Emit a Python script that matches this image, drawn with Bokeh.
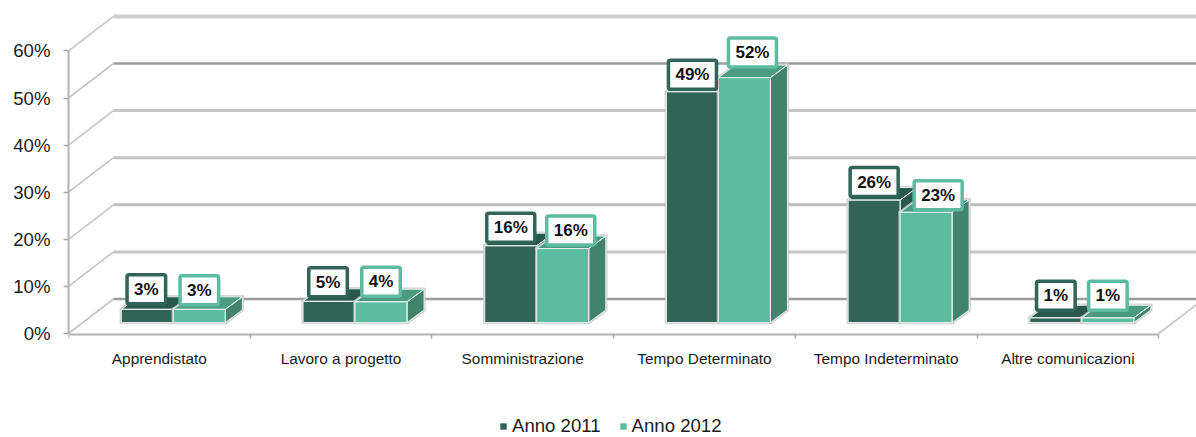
from bokeh.plotting import figure
from bokeh.models import (ColumnDataSource, Range1d, FixedTicker, Legend, LegendItem,
                          LinearAxis)
from bokeh.core.properties import value
from bokeh.embed import file_html
from bokeh.resources import INLINE

# ---- data -------------------------------------------------------------
categories = ["Apprendistato", "Lavoro a progetto", "Somministrazione",
              "Tempo Determinato", "Tempo Indeterminato", "Altre comunicazioni"]
anno_2011 = [2.8, 4.5, 16.3, 49.0, 26.0, 1.0]
anno_2012 = [2.8, 4.4, 15.7, 52.0, 23.4, 1.0]
labels_2011 = ["3%", "5%", "16%", "49%", "26%", "1%"]
labels_2012 = ["3%", "4%", "16%", "52%", "23%", "1%"]
y_ticks = [0, 10, 20, 30, 40, 50, 60]

# ---- layout (pixels) ---------------------------------------------------
FONT = "Liberation Sans"
PX_X = 181.7          # pixels per category
PX_Y = 4.71           # pixels per percentage point
WALL_DX, WALL_DY = 45 / PX_X, 34.5 / PX_Y
BAR_W = 52 / PX_X
BAR_DX, BAR_DY = 17 / PX_X, 12.5 / PX_Y
BASE_DX, BASE_DY = 14 / PX_X, 11 / PX_Y
label_dx_2011 = [-1, -1, 0, 0, 0, 0]
label_dy_2011 = [-20, -19, -18, -17, -18, -22]
label_dx_2012 = [0, 0, 8, 8, 12, 0]
label_dy_2012 = [-19, -20, -18, -25, -17, -22]
wall_colors = ["#9c9c9c", "#c6c6c6", "#bdbdbd", "#c4c4c4", "#c6c6c6", "#9c9c9c", "#cfcfcf"]
wall_widths = [2.5, 3, 3, 3, 3, 2.5, 4]

x_end = 1128 / PX_X
p = figure(width=1196, height=437, output_backend="svg", toolbar_location=None,
           x_range=Range1d(0, x_end), y_range=Range1d(-104 / PX_Y, 333 / PX_Y),
           x_axis_location=None, y_axis_location=None,
           min_border_left=68, min_border_right=0, min_border_top=0, min_border_bottom=0)
p.outline_line_color = None
p.xgrid.visible = False
p.ygrid.visible = False

# ---- walls -------------------------------------------------------------
p.multi_line(xs=[[WALL_DX, x_end + 1] for _ in y_ticks],
             ys=[[t + WALL_DY, t + WALL_DY] for t in y_ticks],
             line_color=wall_colors, line_width=wall_widths)
p.multi_line(xs=[[0, WALL_DX] for _ in y_ticks],
             ys=[[t, t + WALL_DY] for t in y_ticks],
             line_color="#c4c4c4", line_width=1.6)
p.line([len(categories), len(categories) + WALL_DX], [0, WALL_DY],
       line_color="#c4c4c4", line_width=1.6)


def bars(vals, offset, front_col, top_col, side_col):
    fx, fy, tx, ty, sx, sy = [], [], [], [], [], []
    for i, v in enumerate(vals):
        l = i + 0.5 + offset + BASE_DX
        r = l + BAR_W
        b = BASE_DY
        t = b + v
        fx.append([l, r, r, l]); fy.append([b, b, t, t])
        tx.append([l, r, r + BAR_DX, l + BAR_DX]); ty.append([t, t, t + BAR_DY, t + BAR_DY])
        sx.append([r, r + BAR_DX, r + BAR_DX, r]); sy.append([b, b + BAR_DY, t + BAR_DY, t])
    halo = dict(fill_color=None, line_color="#c9cbca", line_width=3.5, line_alpha=0.8, line_join="round")
    edge = dict(fill_color=None, line_color="#e6efeb", line_width=1, line_join="miter")
    p.patches(sx, sy, **halo)
    p.patches(tx, ty, **halo)
    p.patches(fx, fy, **halo)
    p.patches(sx, sy, fill_color=side_col, line_color=None)
    p.patches(tx, ty, fill_color=top_col, line_color=None)
    rend = p.patches(fx, fy, fill_color=front_col, line_color=None)
    p.patches(sx, sy, **edge)
    p.patches(tx, ty, **edge)
    p.patches(fx, fy, **edge)
    return rend, [x[0] + BAR_W / 2 for x in fx], [y[2] for y in fy]


DARK, TEAL = "#2f6456", "#5dbb9f"
r1, cx1, ty1 = bars(anno_2011, -BAR_W, DARK, "#28584b", "#28584b")
r2, cx2, ty2 = bars(anno_2012, 0, TEAL, "#4a9b80", "#41836d")

# ---- data labels -------------------------------------------------------
for cx, ty, lab, dx, dy, col in [
    (cx1, ty1, labels_2011, label_dx_2011, label_dy_2011, DARK),
    (cx2, ty2, labels_2012, label_dx_2012, label_dy_2012, TEAL),
]:
    src = ColumnDataSource(dict(x=cx, y=ty, t=lab, dx=dx, dy=dy))
    p.text("x", "y", text="t", x_offset="dx", y_offset="dy", source=src,
           text_font=value(FONT), text_font_style="bold", text_font_size="17px",
           text_color="#111111", text_align="center", text_baseline="middle",
           background_fill_color="white", border_line_color=col, border_line_width=3.5,
           border_radius=2, padding=(7, 5))

# ---- axes --------------------------------------------------------------
yaxis = LinearAxis(ticker=FixedTicker(ticks=y_ticks), bounds=(0, 60),
                   major_label_overrides={t: f"{t}%" for t in y_ticks})
yaxis.axis_line_color = "#b4b4b4"
yaxis.axis_line_width = 2
yaxis.major_tick_line_color = "#a8a8a8"
yaxis.major_tick_line_width = 1.5
yaxis.major_tick_in = 0
yaxis.major_tick_out = 5
yaxis.minor_tick_line_color = None
yaxis.major_label_standoff = 13
yaxis.major_label_text_font = FONT
yaxis.major_label_text_font_size = "18.6px"
yaxis.major_label_text_color = "#1c1c1c"
p.add_layout(yaxis, "left")

centers = [i + 0.5 for i in range(len(categories))]
xaxis = LinearAxis(ticker=FixedTicker(ticks=centers, minor_ticks=list(range(len(categories) + 1))),
                   bounds=(0, len(categories)), fixed_location=-0.2,
                   major_label_overrides={c: n for c, n in zip(centers, categories)})
xaxis.axis_line_color = "#b4b4b4"
xaxis.axis_line_width = 2
xaxis.major_tick_line_color = None
xaxis.major_tick_in = 0
xaxis.major_tick_out = 0
xaxis.minor_tick_line_color = "#a8a8a8"
xaxis.minor_tick_line_width = 1.5
xaxis.minor_tick_in = 0
xaxis.minor_tick_out = 4
xaxis.major_label_standoff = 12
xaxis.major_label_text_font = FONT
xaxis.major_label_text_font_size = "15.4px"
xaxis.major_label_text_color = "#1c1c1c"
p.add_layout(xaxis, "below")

# ---- legend ------------------------------------------------------------
legend = Legend(items=[LegendItem(label="Anno 2011", renderers=[r1]),
                       LegendItem(label="Anno 2012", renderers=[r2])],
                orientation="horizontal", location=(431, 0),
                padding=0, margin=0, spacing=18, glyph_width=8, glyph_height=8,
                label_standoff=5, label_text_font=FONT, label_text_font_size="18.6px",
                label_text_color="#1c1c1c", border_line_color=None,
                background_fill_color=None, background_fill_alpha=0)
p.add_layout(legend, "center")

open("out.html", "w").write(file_html(p, INLINE))
